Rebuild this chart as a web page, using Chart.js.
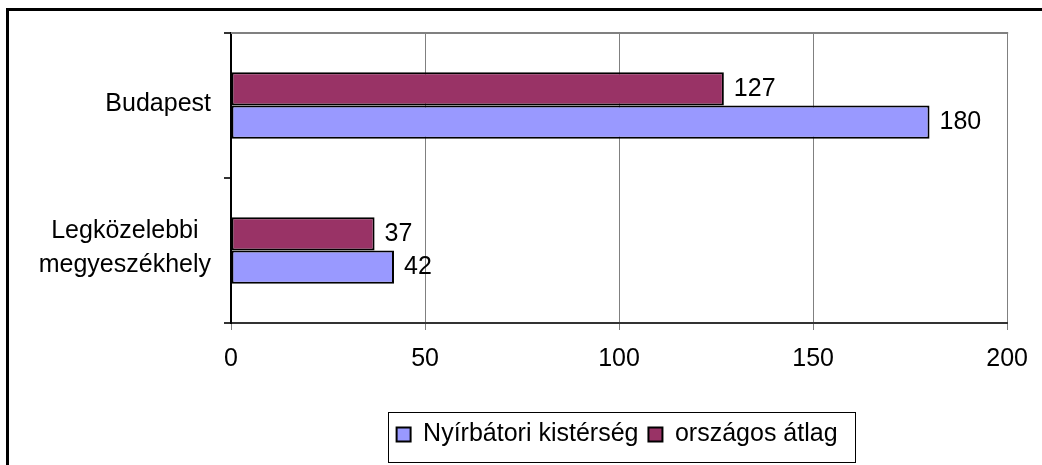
<!DOCTYPE html>
<html lang="hu">
<head>
<meta charset="UTF-8">
<title>Budapest / megyeszékhely</title>
<script src="https://cdn.jsdelivr.net/npm/chart.js"></script>
<style>
  html, body { margin: 0; padding: 0; background: #fff; }
  #chart { display: block; }
</style>
</head>
<body>
<canvas id="chart" width="1042" height="465"></canvas>
<script>
// values
const categories = ['Budapest', ['Legközelebbi', 'megyeszékhely']];
const nyirbatori = [180, 42];
const orszagos = [127, 37];
const xTicks = [0, 50, 100, 150, 200];

const FONT = 'Liberation Sans, Arial, sans-serif';
const SIZE = 25;

// black frame round the whole picture (runs off right/bottom like the original)
const framePlugin = {
  id: 'frame',
  beforeDraw(chart) {
    const ctx = chart.ctx;
    ctx.save();
    ctx.fillStyle = '#fff';
    ctx.fillRect(0, 0, chart.width, chart.height);
    ctx.strokeStyle = '#000';
    ctx.lineWidth = 3;
    ctx.strokeRect(7.5, 9.5, chart.width + 10, chart.height + 10);
    ctx.restore();
  }
};

// gray top edge of the plot area
const plotTopPlugin = {
  id: 'plotTop',
  beforeDatasetsDraw(chart) {
    const {ctx, chartArea} = chart;
    ctx.save();
    ctx.strokeStyle = '#808080';
    ctx.lineWidth = 2;
    ctx.beginPath();
    ctx.moveTo(chartArea.left, chartArea.top);
    ctx.lineTo(chartArea.right + 1, chartArea.top);
    ctx.stroke();
    ctx.restore();
  }
};

// value next to the end of each bar
const valueLabels = {
  id: 'valueLabels',
  afterDatasetsDraw(chart) {
    const ctx = chart.ctx;
    ctx.save();
    ctx.font = SIZE + 'px ' + FONT;
    ctx.fillStyle = '#000';
    ctx.textAlign = 'left';
    ctx.textBaseline = 'middle';
    chart.data.datasets.forEach((ds, i) => {
      chart.getDatasetMeta(i).data.forEach((bar, j) => {
        ctx.fillText(String(ds.data[j]), bar.x + 10, bar.y);
      });
    });
    ctx.restore();
  }
};

// category labels: block right aligned, lines centred inside it (Excel style)
const categoryLabels = {
  id: 'categoryLabels',
  afterDraw(chart) {
    const ctx = chart.ctx;
    const yScale = chart.scales.y;
    const right = chart.chartArea.left - 20;
    const lineGap = 34;
    ctx.save();
    ctx.font = SIZE + 'px ' + FONT;
    ctx.fillStyle = '#000';
    ctx.textAlign = 'center';
    ctx.textBaseline = 'middle';
    categories.forEach((label, i) => {
      const lines = Array.isArray(label) ? label : [label];
      const w = Math.max(...lines.map(l => ctx.measureText(l).width));
      const cx = right - w / 2;
      const cy = yScale.getPixelForTick(i) - (lines.length > 1 ? 2 : 1);
      lines.forEach((l, k) => {
        ctx.fillText(l, cx, cy + (k - (lines.length - 1) / 2) * lineGap);
      });
    });
    ctx.restore();
  }
};

// legend centred under the plot area, with a box round it
const legendBox = {
  id: 'legendBox',
  afterLayout(chart) {
    const lg = chart.legend;
    lg.left = chart.chartArea.left - 2;
    lg.right = chart.chartArea.right - 2;
  },
  afterDraw(chart) {
    const boxes = chart.legend.legendHitBoxes;
    if (!boxes || !boxes.length) return;
    const left = Math.min(...boxes.map(b => b.left)) - 9;
    const right = Math.max(...boxes.map(b => b.left + b.width)) + 17;
    const top = boxes[0].top - 10;
    const bottom = boxes[0].top + boxes[0].height + 15;
    const ctx = chart.ctx;
    ctx.save();
    ctx.strokeStyle = '#000';
    ctx.lineWidth = 1;
    ctx.strokeRect(Math.round(left) + 0.5, Math.round(top) + 0.5,
                   Math.round(right - left), Math.round(bottom - top));
    ctx.restore();
  }
};

const barStyle = {
  borderColor: '#000',
  borderWidth: 2,
  borderSkipped: false,
  categoryPercentage: 0.46,
  barPercentage: 1
};

new Chart(document.getElementById('chart'), {
  type: 'bar',
  data: {
    labels: categories,
    datasets: [
      Object.assign({ label: 'országos átlag', data: orszagos, backgroundColor: '#993366' }, barStyle),
      Object.assign({ label: 'Nyírbátori kistérség', data: nyirbatori, backgroundColor: '#9999FF' }, barStyle)
    ]
  },
  options: {
    indexAxis: 'y',
    responsive: false,
    animation: false,
    devicePixelRatio: 1,
    layout: { padding: { top: 33, right: 34, bottom: 8, left: 0 } },
    plugins: {
      tooltip: { enabled: false },
      legend: {
        position: 'bottom',
        reverse: true,
        labels: {
          boxWidth: 14,
          boxHeight: 14,
          padding: 10,
          color: '#000',
          font: { family: FONT, size: SIZE }
        }
      }
    },
    scales: {
      x: {
        type: 'linear',
        min: xTicks[0],
        max: xTicks[xTicks.length - 1],
        ticks: {
          stepSize: xTicks[1] - xTicks[0],
          color: '#000',
          padding: 14,
          font: { family: FONT, size: SIZE }
        },
        grid: { color: '#808080', lineWidth: 1, tickLength: 7 },
        border: { color: '#333', width: 2 },
        afterFit(scale) { scale.height = 89; }
      },
      y: {
        type: 'category',
        offset: true,
        ticks: { display: false },
        grid: { offset: true, drawOnChartArea: false, tickLength: 7, color: '#333', lineWidth: 2 },
        border: { color: '#000', width: 2 },
        afterFit(scale) { scale.width = 231; }
      }
    }
  },
  plugins: [framePlugin, plotTopPlugin, valueLabels, categoryLabels, legendBox]
});
</script>
</body>
</html>
